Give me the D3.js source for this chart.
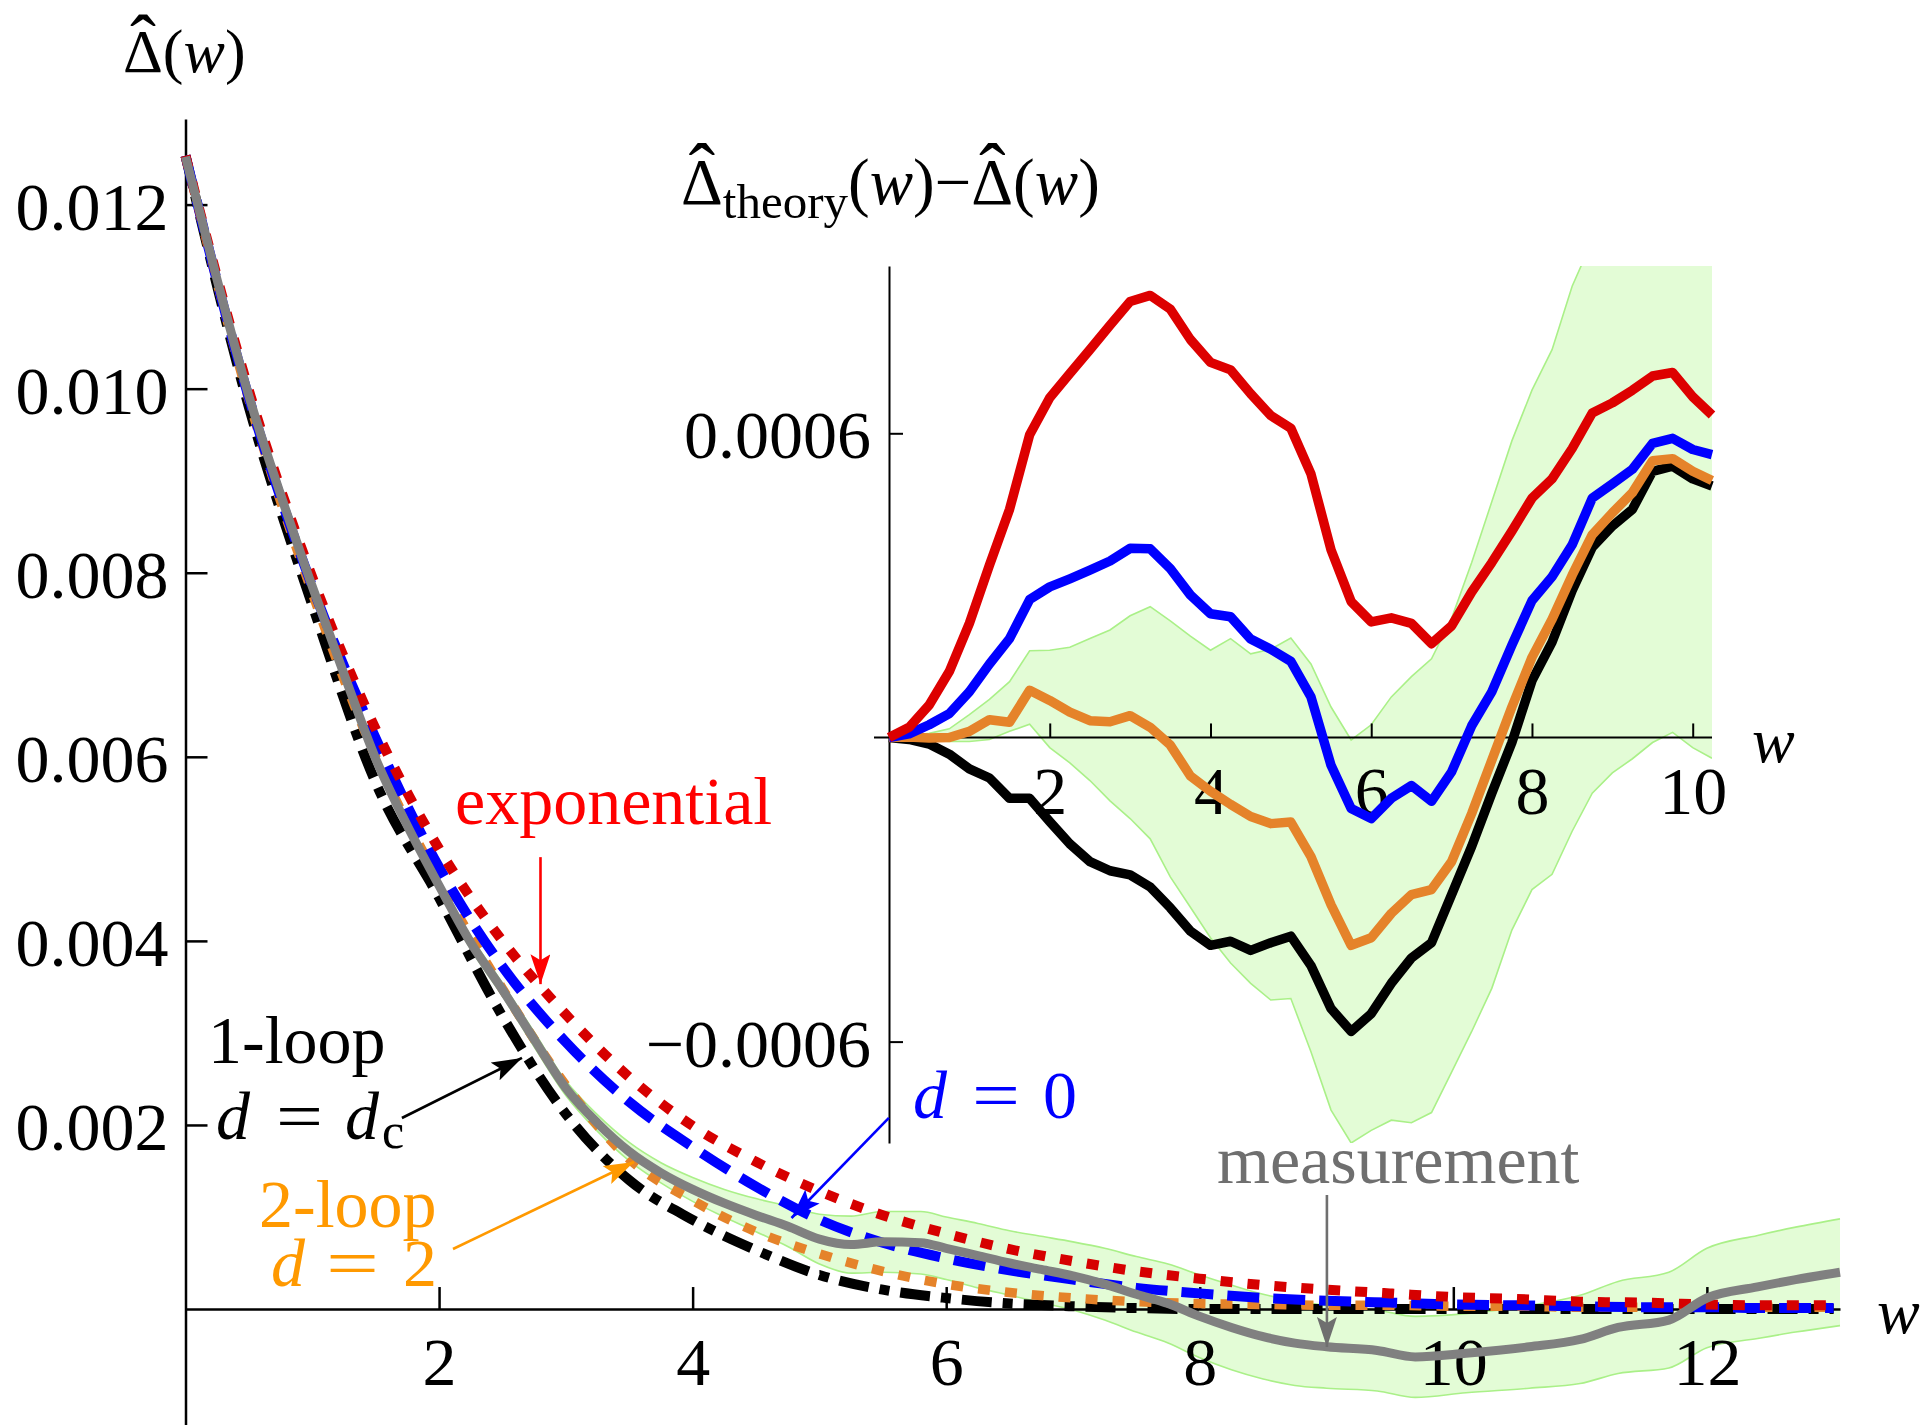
<!DOCTYPE html>
<html><head><meta charset="utf-8">
<script src="https://cdn.jsdelivr.net/npm/d3@7"></script>
<style>
html,body{margin:0;padding:0;background:#fff;}
svg{display:block;}
</style></head><body>
<svg id="chart" width="1926" height="1425"></svg>
<script>
// ---------- MAIN PLOT DATA ----------
const thW      = [0,0.5,1,1.5,2,2.5,3,3.5,4,4.5,5,5.5,6,6.5,7,7.5,8,8.5,9,9.5,10,10.5,11,11.5,12,12.5,13];
const expoV    = [0.01253,0.00998,0.00795,0.00630,0.00500,0.00400,0.00320,0.00252,0.00199,0.00160,0.00128,0.00102,0.00082,0.00065,0.00052,0.00041,0.00033,0.00026,0.00021,0.00017,0.00013,0.00011,0.00008,0.00007,0.00005,0.00004,0.00004];
const dZeroV   = [0.01253,0.00990,0.00785,0.00620,0.00480,0.00372,0.00290,0.00225,0.00176,0.00133,0.00097,0.00072,0.00055,0.00042,0.00032,0.00023,0.00017,0.00012,0.00009,0.00007,0.00005,0.00004,0.00003,0.00002,0.00002,0.00001,0.00001];
const twoLoopV = [0.01253,0.00988,0.00778,0.00600,0.00465,0.00348,0.00243,0.00163,0.00118,0.00084,0.00060,0.00041,0.00027,0.00018,0.00012,0.00008,0.00006,0.00005,0.00004,0.00004,0.00003,0.00003,0.00002,0.00002,0.00002,0.00002,0.00002];
const oneLoopV = [0.01253,0.00980,0.00765,0.00572,0.00447,0.00318,0.00212,0.00140,0.00097,0.00064,0.00037,0.00021,0.00012,0.00006,0.00003,0.00001,0,0,0,0,0,0,0,0,0,0,0];

const measW   = [0,0.25,0.5,0.75,1.0,1.25,1.5,1.75,2.0,2.25,2.5,2.75,3.0,3.25,3.5,3.75,4.0,4.25,4.5,4.75,5.0,5.25,5.5,5.8,6.0,6.25,6.5,6.75,7.0,7.25,7.5,7.75,8.0,8.25,8.5,8.75,9.0,9.4,9.7,10.1,10.6,11.0,11.3,11.7,12.0,12.4,12.7,13.05];
const measV   = [0.01252,0.01118,0.00992,0.00885,0.00785,0.00690,0.00598,0.00525,0.00460,0.00398,0.00347,0.00293,0.00240,0.00202,0.00171,0.00148,0.00130,0.00115,0.00102,0.00090,0.00076,0.00070,0.00073,0.00072,0.00066,0.00058,0.00050,0.00043,0.00036,0.00027,0.00016,0.00006,-0.00008,-0.00020,-0.00030,-0.00037,-0.00041,-0.00045,-0.00052,-0.00048,-0.00041,-0.00033,-0.00020,-0.00012,0.00012,0.00024,0.00032,0.00040];
const measErr = [0,0.00001,0.00002,0.00003,0.00004,0.00005,0.00005,0.00006,0.00006,0.00007,0.00007,0.00008,0.00008,0.00009,0.0001,0.00011,0.00013,0.00015,0.00018,0.00022,0.00027,0.00031,0.00033,0.00034,0.00034,0.00035,0.00035,0.00036,0.00037,0.00039,0.00041,0.00043,0.00045,0.00046,0.00046,0.00046,0.00045,0.00044,0.00044,0.00043,0.00045,0.00048,0.0005,0.00052,0.00054,0.00056,0.00057,0.00058];

const mainXTicks = [2,4,6,8,10,12];
const mainYTicks = [0.002,0.004,0.006,0.008,0.010,0.012];

// ---------- INSET DATA (units of 1e-4) ----------
const insW     = [0,0.25,0.5,0.75,1,1.25,1.5,1.75,2,2.25,2.5,2.75,3,3.25,3.5,3.75,4,4.25,4.5,4.75,5,5.25,5.5,5.75,6,6.25,6.5,6.75,7,7.25,7.5,7.75,8,8.25,8.5,8.75,9,9.25,9.5,9.75,10,10.24];
const insExpo  = [0,0.2,0.64,1.3,2.25,3.4,4.5,5.97,6.7,7.18,7.65,8.13,8.6,8.72,8.45,7.85,7.4,7.25,6.78,6.35,6.1,5.2,3.7,2.68,2.28,2.36,2.25,1.85,2.2,2.87,3.45,4.07,4.72,5.1,5.7,6.4,6.6,6.85,7.13,7.2,6.72,6.36];
const insZero  = [0,0.07,0.25,0.47,0.9,1.45,1.95,2.72,2.97,3.13,3.3,3.48,3.73,3.72,3.33,2.81,2.44,2.38,1.94,1.74,1.5,0.8,-0.55,-1.4,-1.6,-1.2,-0.95,-1.26,-0.68,0.23,0.9,1.82,2.7,3.17,3.8,4.72,5.0,5.29,5.8,5.9,5.68,5.58];
const insTwo   = [0,0.01,-0.01,0,0.12,0.35,0.3,0.93,0.73,0.5,0.33,0.31,0.43,0.2,-0.15,-0.76,-1.06,-1.32,-1.56,-1.7,-1.67,-2.35,-3.3,-4.1,-3.95,-3.47,-3.1,-3.0,-2.45,-1.5,-0.45,0.6,1.58,2.33,3.2,4.0,4.43,4.83,5.46,5.5,5.25,5.07];
const insOne   = [0,-0.04,-0.13,-0.33,-0.62,-0.8,-1.2,-1.2,-1.66,-2.1,-2.45,-2.63,-2.71,-2.95,-3.36,-3.82,-4.1,-4.02,-4.2,-4.05,-3.92,-4.5,-5.35,-5.8,-5.45,-4.85,-4.35,-4.05,-3.1,-2.15,-1.1,-0.1,1.12,1.88,2.9,3.75,4.17,4.5,5.25,5.35,5.1,4.96];
const insHi    = [0,0.03,0.08,0.17,0.45,0.75,1.1,1.71,1.72,1.78,1.95,2.12,2.4,2.58,2.3,2.0,1.72,1.95,1.65,1.74,1.96,1.45,0.6,-0.05,0.25,0.8,1.2,1.55,2.35,3.45,4.65,5.85,6.85,7.65,8.9,9.8,10.5,11,11,11,11,11];
const insLo    = [0,-0.02,-0.05,-0.08,-0.08,-0.04,0.12,0.26,-0.2,-0.5,-0.85,-1.25,-1.6,-2.0,-2.75,-3.35,-3.95,-4.45,-4.85,-5.18,-5.15,-6.2,-7.35,-8.0,-7.75,-7.55,-7.6,-7.4,-6.6,-5.8,-4.95,-3.8,-3.0,-2.7,-1.85,-1.1,-0.7,-0.42,-0.1,0.1,-0.2,-0.41];
const insXTicks = [2,4,6,8,10];
const insYTicks = [-6,6];

// ---------- ANNOTATION ARROWS (data coords of main plot) ----------
const arrows = [
  {x1:2.80, y1:0.00491, x2:2.80, y2:0.00353, color:"#ff0000"},
  {x1:1.707,y1:0.002076,x2:2.654,y2:0.002728,color:"#000000"},
  {x1:2.11, y1:0.000652,x2:3.537,y2:0.001598,color:"#ff9900"},
  {x1:5.548,y1:0.002076,x2:4.78, y2:0.000989,color:"#0000ff"},
  {x1:9.003,y1:0.001239,x2:9.003,y2:-0.000413,color:"#6f6f6f"}
];

// ---------- DRAW ----------
const FONT = '"Liberation Serif","Times New Roman",serif';
const svg = d3.select("#chart");
const defs = svg.append("defs");

const xM = d3.scaleLinear().domain([0, 13.05]).range([185.5, 1840]);
const yM = d3.scaleLinear().domain([-0.00126, 0.01293]).range([1425, 119]);
const xI = d3.scaleLinear().domain([0, 10.24]).range([889, 1712]);
const yI = d3.scaleLinear().domain([-8.0, 9.3]).range([1143, 266]);

defs.append("clipPath").attr("id","insClip").append("rect")
  .attr("x", xI(0)).attr("y", yI(9.3)).attr("width", xI(10.24)-xI(0)).attr("height", yI(-8.0)-yI(9.3));

const BAND_FILL = "#e3fcd6", BAND_EDGE = "#aaf088";

// main band
const mBand = measW.map((w,i)=>({w, lo: measV[i]-measErr[i], hi: measV[i]+measErr[i]}));
svg.append("path").datum(mBand)
  .attr("d", d3.area().x(d=>xM(d.w)).y0(d=>yM(d.lo)).y1(d=>yM(d.hi)).curve(d3.curveMonotoneX))
  .attr("fill", BAND_FILL);
["lo","hi"].forEach(k=>{
  svg.append("path").datum(mBand)
    .attr("d", d3.line().x(d=>xM(d.w)).y(d=>yM(d[k])).curve(d3.curveMonotoneX))
    .attr("fill","none").attr("stroke",BAND_EDGE).attr("stroke-width",1.6);
});

// inset band
const iBand = insW.map((w,i)=>({w, lo: insLo[i], hi: insHi[i]}));
const gIB = svg.append("g").attr("clip-path","url(#insClip)");
gIB.append("path").datum(iBand)
  .attr("d", d3.area().x(d=>xI(d.w)).y0(d=>yI(d.lo)).y1(d=>yI(d.hi)))
  .attr("fill", BAND_FILL);
["lo","hi"].forEach(k=>{
  gIB.append("path").datum(iBand)
    .attr("d", d3.line().x(d=>xI(d.w)).y(d=>yI(d[k])))
    .attr("fill","none").attr("stroke",BAND_EDGE).attr("stroke-width",1.6);
});

// axes
function styleAxis(g, sw){
  g.attr("font-family", FONT).attr("font-size", 68);
  g.selectAll(".domain").attr("stroke","#000").attr("stroke-width", sw);
  g.selectAll(".tick line").attr("stroke","#000").attr("stroke-width", sw);
  g.selectAll(".tick text").attr("fill","#000");
}
const gMy = svg.append("g").attr("transform",`translate(${xM(0)},0)`)
  .call(d3.axisLeft(yM).tickValues(mainYTicks).tickFormat(d3.format(".3f")).tickSizeInner(-22).tickSizeOuter(0).tickPadding(17));
styleAxis(gMy, 2.5);
gMy.selectAll(".tick text").attr("dy","0.36em");

const gMx = svg.append("g").attr("transform",`translate(0,${yM(0)})`)
  .call(d3.axisBottom(xM).tickValues(mainXTicks).tickFormat(d3.format("d")).tickSizeInner(-22).tickSizeOuter(0));
styleAxis(gMx, 2.5);
gMx.selectAll(".tick text").attr("y",76).attr("dy","0");

const gIy = svg.append("g").attr("transform",`translate(${xI(0)},0)`)
  .call(d3.axisLeft(yI).tickValues(insYTicks).tickFormat(d=>d3.format(".4f")(d*1e-4)).tickSizeInner(-14).tickSizeOuter(0).tickPadding(18));
styleAxis(gIy, 2);
gIy.selectAll(".tick text").attr("dy","0.36em");

const gIx = svg.append("g").attr("transform",`translate(0,${yI(0)})`)
  .call(d3.axisBottom(xI).tickValues(insXTicks).tickFormat(d3.format("d")).tickSizeInner(-14).tickSizeOuter(0));
styleAxis(gIx, 2);
gIx.select(".domain").remove();
gIx.append("line").attr("x1", xI(0)-15).attr("x2", xI(10.24)).attr("y1",0).attr("y2",0)
  .attr("stroke","#000").attr("stroke-width",2);
gIx.selectAll(".tick text").attr("y",77).attr("dy","0");

// main theory curves
const mLine = d3.line().x(d=>xM(d[0])).y(d=>yM(d[1])).curve(d3.curveMonotoneX);
const theory = [
  {v: oneLoopV, color:"#000000", w:10, dash:"30,11,10,11"},
  {v: twoLoopV, color:"#e5832a", w:9.5, dash:"12,15"},
  {v: dZeroV,   color:"#0000ff", w:10, dash:"32,14"},
  {v: expoV,    color:"#d60000", w:10, dash:"12,15"}
];
theory.forEach(s=>{
  svg.append("path").datum(thW.map((w,i)=>[w, s.v[i]]))
    .attr("d", mLine).attr("fill","none").attr("stroke", s.color)
    .attr("stroke-width", s.w).attr("stroke-dasharray", s.dash);
});
svg.append("path").datum(measW.map((w,i)=>[w, measV[i]]))
  .attr("d", d3.line().x(d=>xM(d[0])).y(d=>yM(d[1])).curve(d3.curveMonotoneX))
  .attr("fill","none").attr("stroke","#808080").attr("stroke-width",9).attr("stroke-linejoin","round");

// inset curves
const iLine = d3.line().x(d=>xI(d[0])).y(d=>yI(d[1]));
const insSeries = [
  {v: insOne,  color:"#000000"},
  {v: insTwo,  color:"#e5832a"},
  {v: insZero, color:"#0000ff"},
  {v: insExpo, color:"#dd0000"}
];
insSeries.forEach(s=>{
  svg.append("path").datum(insW.map((w,i)=>[w, s.v[i]]))
    .attr("d", iLine).attr("fill","none").attr("stroke", s.color)
    .attr("stroke-width", 9.5).attr("stroke-linejoin","round");
});

// arrows
arrows.forEach((a,i)=>{
  const id = "ah"+i;
  defs.append("marker").attr("id",id).attr("viewBox","0 0 30 20")
    .attr("refX",30).attr("refY",10).attr("markerWidth",30).attr("markerHeight",20)
    .attr("markerUnits","userSpaceOnUse").attr("orient","auto")
    .append("path").attr("d","M0,0 L30,10 L0,20 L6,10 Z").attr("fill",a.color);
  svg.append("line").attr("x1",xM(a.x1)).attr("y1",yM(a.y1)).attr("x2",xM(a.x2)).attr("y2",yM(a.y2))
    .attr("stroke",a.color).attr("stroke-width",2.6).attr("marker-end",`url(#${id})`);
});

// text helpers
function txt(x,y,size,color,parts,opts={}){
  const t = svg.append("text").attr("x",x).attr("y",y).attr("font-family",FONT)
    .attr("font-size",size).attr("fill",color);
  if (opts.anchor) t.attr("text-anchor",opts.anchor);
  parts.forEach(p=>{
    const ts = t.append("tspan").text(p.t);
    if (p.i) ts.attr("font-style","italic");
    if (p.s) ts.attr("font-size",p.s);
    if (p.dy) ts.attr("dy",p.dy);
  });
  return t;
}
function eq(x,y,size,color,len){
  svg.append("text").attr("x",x).attr("y",y).attr("font-family",FONT).attr("font-size",size)
    .attr("fill",color).attr("textLength",len).attr("lengthAdjust","spacingAndGlyphs").text("=");
}
// circumflex accent placed (as a tspan of the same text) above character idx
function hats(t, idxs, size){
  const spots = idxs.map(idx=>{
    const ext = t.node().getExtentOfChar(idx);
    return {cx: ext.x + ext.width/2, top: ext.y + ext.height*0.115};
  });
  // measure the accent glyph once
  const probe = svg.append("text").attr("x",0).attr("y",0).attr("font-family",FONT)
    .attr("font-size",size).text("\u02C6");
  const bb = probe.node().getBBox();
  const wAcc = probe.node().getComputedTextLength();
  const glyphBottom = bb.y + bb.height*0.26;
  probe.remove();
  spots.forEach(s=>{
    t.append("tspan").attr("font-size",size).attr("font-style","normal")
      .attr("x", s.cx - wAcc/2).attr("y", (s.top - 3) - glyphBottom).text("\u02C6");
  });
}

// axis labels
const yLab = txt(123,72,62,"#000",[{t:"\u0394("},{t:"w",i:1},{t:")"}]);
hats(yLab, [0], 78);
txt(1877,1333,64,"#000",[{t:"w",i:1}]);
txt(1752,762,64,"#000",[{t:"w",i:1}]);
const iTitle = txt(681,204,65,"#000",[{t:"\u0394"},{t:"theory",s:49,dy:14},{t:"(",dy:-14},{t:"w",i:1},{t:")\u2212\u0394("},{t:"w",i:1},{t:")"}]);
hats(iTitle, [0, 11], 80);

// annotations
txt(455,824,68,"#ff0000",[{t:"exponential"}]);
txt(208,1063,68,"#000",[{t:"1-loop"}]);
txt(216,1139,68,"#000",[{t:"d",i:1}]);
eq(276,1139,68,"#000",47);
txt(345,1139,68,"#000",[{t:"d",i:1}]);
txt(382,1148,50,"#000",[{t:"c"}]);
txt(259,1227,68,"#ff9900",[{t:"2-loop"}]);
txt(271,1286,68,"#ff9900",[{t:"d",i:1}]);
eq(326,1286,68,"#ff9900",53);
txt(403,1286,68,"#ff9900",[{t:"2"}]);
txt(913,1118,68,"#0000ff",[{t:"d",i:1}]);
eq(972,1118,68,"#0000ff",48);
txt(1043,1118,68,"#0000ff",[{t:"0"}]);
txt(1217,1183,68,"#6f6f6f",[{t:"measurement"}]);
</script>
</body></html>
